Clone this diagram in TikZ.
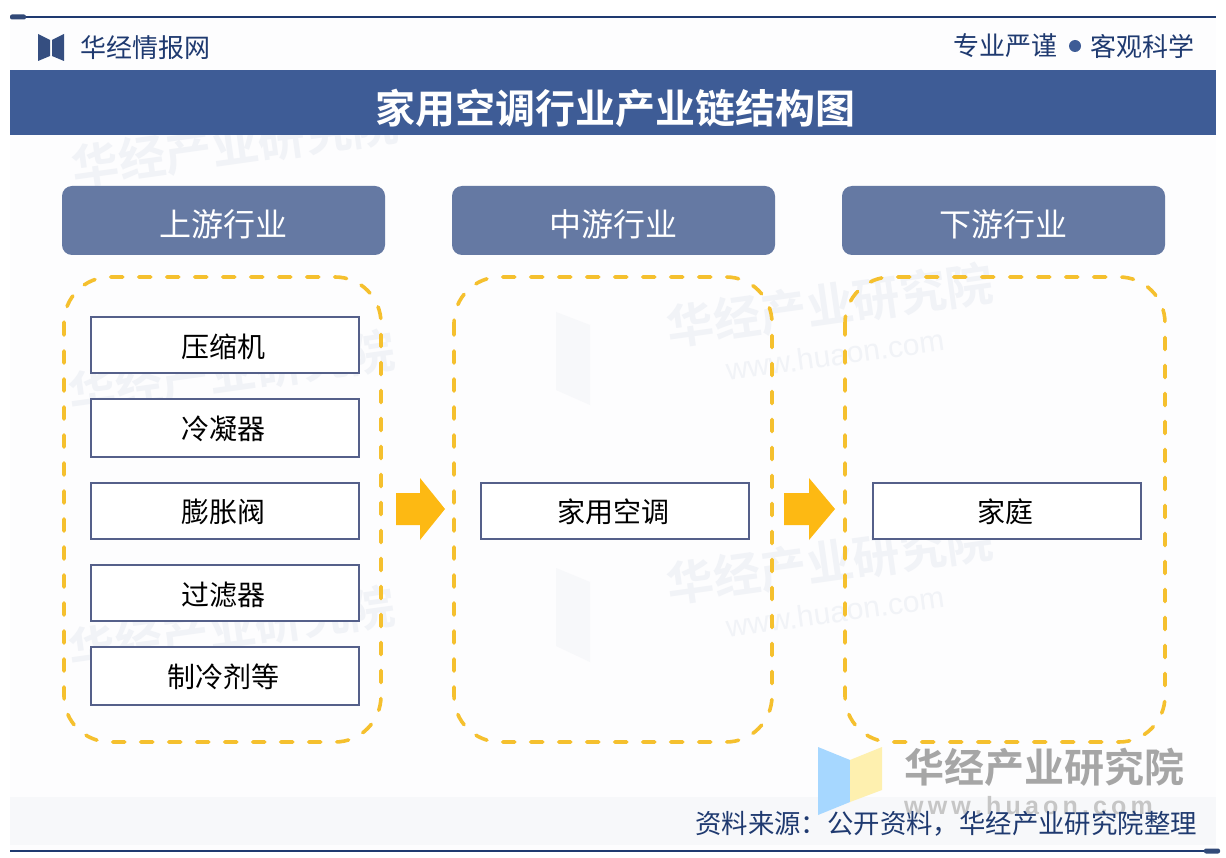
\documentclass[tikz,border=0pt]{standalone}
\usepackage{fontspec}
\setmainfont{Liberation Sans}
\newfontfamily\cjk{Noto Sans CJK SC}
\newfontfamily\cjkb{Noto Sans CJK SC Bold}
\usetikzlibrary{calc}
\definecolor{navy}{HTML}{3E5C96}
\definecolor{headbox}{HTML}{6579A3}
\definecolor{gold}{HTML}{F5C02E}
\definecolor{arrowgold}{HTML}{FDB913}
\definecolor{edge}{HTML}{55608A}
\definecolor{ink}{HTML}{1F3A70}
\definecolor{panel}{HTML}{FDFDFE}
\definecolor{wm}{HTML}{F1F3F7}
\tikzset{
  x=1pt,y=-1pt,
  title/.style={font=\cjkb\fontsize{40}{40}\selectfont,text=white},
  headbox/.style={draw=none,fill=headbox,rounded corners=10pt,minimum width=323pt,minimum height=69pt,
    inner sep=0pt},
  headlabel/.style={font=\cjk\fontsize{32}{32}\selectfont,text=white,inner sep=0pt},
  itembox/.style={draw=edge,line width=1.2pt,fill=white,minimum width=268pt,inner sep=0pt},
  itemlabel/.style={font=\cjk\fontsize{28}{28}\selectfont,text=black,inner sep=0pt},
  dashbox/.style={draw=gold,line width=3.6pt,dash pattern=on 12pt off 16pt,line cap=round,rounded corners=46pt},
  bigarrow/.style={fill=arrowgold,draw=none},
  toptext/.style={font=\cjk\fontsize{26}{26}\selectfont,text=ink,inner sep=0pt},
  wmark/.style={font=\cjkb\fontsize{47}{47}\selectfont,text=wm,rotate=8,inner sep=0pt},
  wmurl/.style={font=\fontsize{30}{30}\selectfont,text=wm,rotate=8,inner sep=0pt},
}
\begin{document}
\begin{tikzpicture}
\useasboundingbox (0,0) rectangle (1226,858);
\fill[white] (0,0) rectangle (1226,858);
\fill[panel] (10,17) rectangle (1216,851);
% faint repeated watermarks
\node[wmark] (wa) at (830,305) {华经产业研究院};
\node[wmurl] (wb) at (835,355) {www.huaon.com};
\node[wmark] (wc) at (830,562) {华经产业研究院};
\node[wmurl] (wd) at (835,612) {www.huaon.com};
\node[wmark] (we) at (232,372) {华经产业研究院};
\node[wmark] (wf) at (232,628) {华经产业研究院};
\node[wmark] (wg) at (235,145) {华经产业研究院};
\fill[wm!60] (556,312) -- (590,325) -- (590,405) -- (556,390) -- cycle;
\fill[wm!60] (556,568) -- (590,582) -- (590,662) -- (556,646) -- cycle;
% footer band
\fill[wm!60] (10,797) rectangle (1216,845);
% frame lines
\draw[ink,line width=2pt] (10,17) -- (1216,17);
\draw[ink,line width=2pt] (10,851) -- (1216,851);
\fill[navy!80!black,rounded corners=2pt] (10,14.5) rectangle (26,19.5);
\fill[navy!80!black,rounded corners=2pt] (1204,848.5) rectangle (1220,853.5);
% top row
\fill[navy!85!black] (38,34) -- (50,40) -- (50,56) -- (38,61) -- cycle;
\fill[navy!85!black] (64,34) -- (52,40) -- (52,56) -- (64,61) -- cycle;
\node[toptext,anchor=west] (brand) at (80,48) {华经情报网};
\node[toptext,anchor=east] (mottoa) at (1058,46) {专业严谨};
\fill[navy] (1075,46) circle (6pt);
\node[toptext,anchor=west] (mottob) at (1090,46) {客观科学};
% title band
\fill[navy] (10,70) rectangle (1216,135);
\node[title] (ttl) at (615,108) {家用空调行业产业链结构图};
% headers
\node[headbox] (h1) at (223.5,220.5) {};
\node[headbox] (h2) at (613.5,220.5) {};
\node[headbox] (h3) at (1003.5,220.5) {};
\node[headlabel] (h1t) at (223.5,224) {上游行业};
\node[headlabel] (h2t) at (613.5,224) {中游行业};
\node[headlabel] (h3t) at (1003.5,224) {下游行业};
% dashed groups
\draw[dashbox] (64,277) rectangle (381,742);
\draw[dashbox] (454,277) rectangle (772,742);
\draw[dashbox] (845,277) rectangle (1165,742);
% items
\node[itembox,minimum height=56pt] (a1) at (225,345) {};
\node[itembox,minimum height=58pt] (a2) at (225,428) {};
\node[itembox,minimum height=56pt] (a3) at (225,511) {};
\node[itembox,minimum height=56pt] (a4) at (225,593) {};
\node[itembox,minimum height=58pt] (a5) at (225,676) {};
\node[itembox,minimum height=56pt] (b1) at (615,511) {};
\node[itembox,minimum height=56pt] (c1) at (1007,511) {};
\node[itemlabel] (a1t) at (223,347) {压缩机};
\node[itemlabel] (a2t) at (223,429) {冷凝器};
\node[itemlabel] (a3t) at (223,512) {膨胀阀};
\node[itemlabel] (a4t) at (223,595) {过滤器};
\node[itemlabel] (a5t) at (223,677) {制冷剂等};
\node[itemlabel] (b1t) at (613,512) {家用空调};
\node[itemlabel] (c1t) at (1005,512) {家庭};
% arrows
\fill[bigarrow] (396,493) -- (420,493) -- (420,478) -- (445,509) -- (420,540) -- (420,525) -- (396,525) -- cycle;
\fill[bigarrow] (784,493) -- (809,493) -- (809,478) -- (835,509) -- (809,540) -- (809,525) -- (784,525) -- cycle;
% logo watermark bottom right
\fill[blue!45!cyan!35!white] (818,747) -- (850,760) -- (850,802) -- (818,815) -- cycle;
\fill[yellow!70!orange!30!white] (882,747) -- (850,760) -- (850,802) -- (882,790) -- cycle;
\node[font=\cjkb\fontsize{40}{40}\selectfont,text=gray!70,inner sep=0pt,anchor=west] (lg) at (904,767) {华经产业研究院};
\node[font=\fontsize{25}{25}\selectfont\bfseries,text=gray!45,inner sep=0pt,anchor=west] (lu) at (904,806) {w\,w\,w\,.\,h\,u\,a\,o\,n\,.\,c\,o\,m};
% source
\node[font=\cjk\fontsize{26.4}{26.4}\selectfont,text=ink,inner sep=0pt,anchor=east] (src) at (1197,824) {资料来源：公开资料，华经产业研究院整理};
\end{tikzpicture}
\end{document}
